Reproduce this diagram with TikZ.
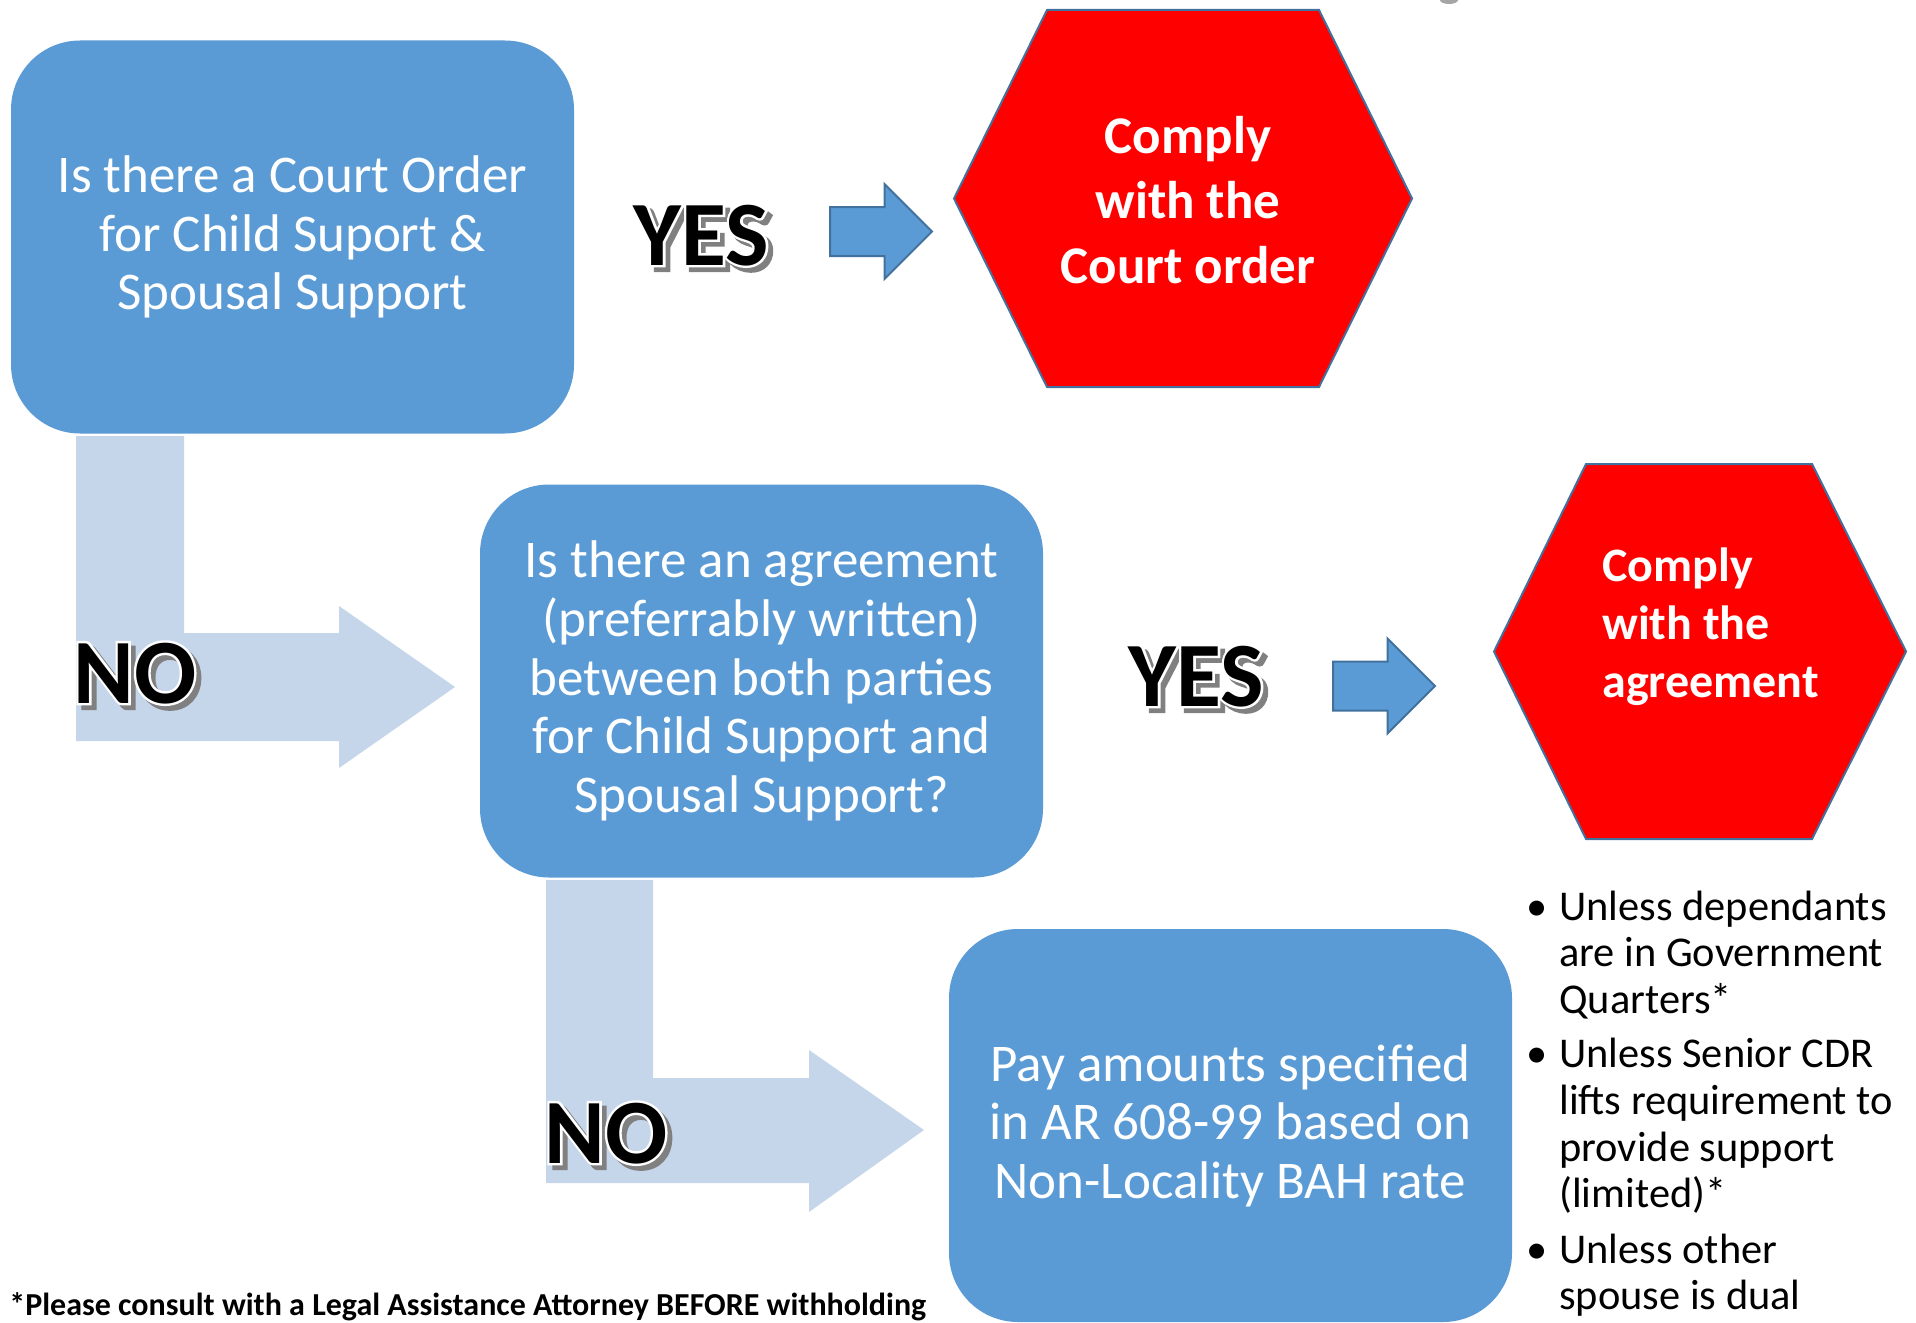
\documentclass[tikz,border=0pt]{standalone}
\usepackage{fontspec}
\setmainfont{Carlito}
\usetikzlibrary{shapes.arrows}

\definecolor{boxblue}{HTML}{5B9BD5}
\definecolor{edgeblue}{HTML}{41719C}
\definecolor{paleblue}{HTML}{C5D5EA}
\definecolor{stopred}{HTML}{FF0000}
\definecolor{shadowgray}{HTML}{808080}

% big black word with white rim and grey shadow (pdf text render modes)
\newcommand\rimtext[3]{\special{pdf:literal direct #1 Tr #2 w}#3\special{pdf:literal direct 0 Tr 1 w}}
\newcommand\shout[1]{{\bfseries
  \rlap{\kern2.4pt\raisebox{-2.4pt}{\color{shadowgray}\rimtext{2}{2.4}{#1}}}%
  \rlap{\color{white}\rimtext{1}{2.4}{#1}}%
  #1}}

\begin{document}
\begin{tikzpicture}[x=0.5pt,y=-0.5pt,
    qbox/.style={rectangle, rounded corners=34.5pt, fill=boxblue, text=white,
      minimum width=281.5pt, minimum height=196.5pt, inner sep=0pt, align=center,
      font=\fontsize{26.5}{29.3}\selectfont},
    hexa/.style={fill=stopred, draw=edgeblue, line width=1pt},
    hextext/.style={text=white, inner sep=0pt, font=\bfseries\fontsize{26.5}{32.4}\selectfont},
    yesarrow/.style={single arrow, fill=boxblue, draw=edgeblue, line width=1pt,
      inner xsep=0pt, inner ysep=11.75pt, minimum height=51pt,
      single arrow head extend=11.5pt, anchor=tail},
    noarrow/.style={fill=paleblue},
    answer/.style={inner sep=0pt, anchor=base west, font=\fontsize{46}{46}\selectfont},
    notes/.style={inner sep=0pt, anchor=base west, font=\fontsize{21.2}{23.3}\selectfont}]
  \useasboundingbox (0,0) rectangle (1916,1322);

  % bent NO arrows
  \fill[noarrow] (76,436) -- (184,436) -- (184,633) -- (339,633) -- (339,606)
    -- (455,687) -- (339,768) -- (339,741) -- (76,741) -- cycle;
  \fill[noarrow] (546,880) -- (653,880) -- (653,1078) -- (809,1078) -- (809,1050)
    -- (924,1130) -- (809,1212) -- (809,1183) -- (546,1183) -- cycle;

  % questions
  \node[qbox] (order) at (292.5,237) {Is there a Court Order\\for Child Suport \&\\Spousal Support};
  \node[qbox] (deal) at (761.5,681) {Is there an agreement\\(preferrably written)\\between both parties\\for Child Support and\\Spousal Support?};
  \node[qbox] (pay) at (1230.5,1125.5) {Pay amounts specified\\in AR 608-99 based on\\Non-Locality BAH rate};

  % outcomes
  \coordinate (courthex) at (1183,198.5);
  \filldraw[hexa] (courthex) ++(-229,0) -- ++(93,-188.5) -- ++(272,0) -- ++(93,188.5)
    -- ++(-93,188.5) -- ++(-272,0) -- cycle;
  \node[hextext, align=center] (court) at (1188,200) {Comply\\with the\\Court order};

  \coordinate (dealhex) at (1700,651.5);
  \filldraw[hexa] (dealhex) ++(-206,0) -- ++(92,-187.5) -- ++(226,0) -- ++(94,187.5)
    -- ++(-94,187.5) -- ++(-226,0) -- cycle;
  \node[hextext, align=left, anchor=west, font=\bfseries\fontsize{24}{29}\selectfont]
    (agree) at (1602,627) {Comply\\with the\\agreement};

  % YES / NO
  \node[answer] (yesA) at (633,265) {\shout{YES}};
  \node[yesarrow] (goA) at (829,231.5) {};
  \node[answer] (yesB) at (1128,706) {\shout{YES}};
  \node[yesarrow] (goB) at (1332,686) {};
  \node[answer] (noA) at (73,703) {\shout{NO}};
  \node[answer] (noB) at (544,1163) {\shout{NO}};

  % side notes
  \node[notes] (caveats) at (1526,920) {%
    \begin{tabular}[t]{@{}l@{}l@{}}
      \makebox[16.5pt][l]{\textbullet} & Unless dependants\\
       & are in Government\\
       & Quarters*\\[4pt]
      \textbullet & Unless Senior CDR\\
       & lifts requirement to\\
       & provide support\\
       & (limited)*\\[4.5pt]
      \textbullet & Unless other\\
       & spouse is dual
    \end{tabular}};

  \node[inner sep=0pt, anchor=base west, font=\bfseries\fontsize{16}{16}\selectfont]
    (footnote) at (9,1315) {*Please consult with a Legal Assistance Attorney BEFORE withholding};

  \fill[shadowgray!70] (1449,0) ellipse (9 and 4);
\end{tikzpicture}
\end{document}
